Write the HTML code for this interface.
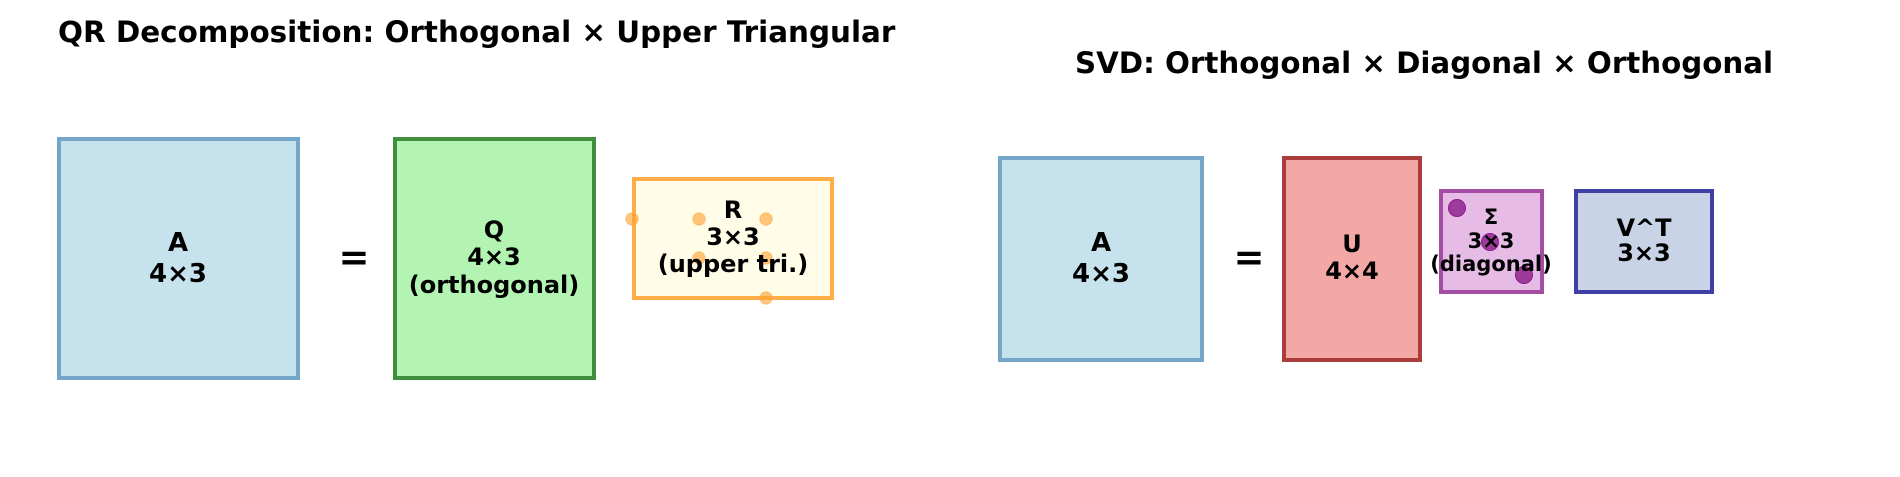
<!DOCTYPE html>
<html><head><meta charset="utf-8"><style>
html,body{margin:0;padding:0;background:#fff;width:1900px;height:477px;overflow:hidden}
text{font-family:"DejaVu Sans","Liberation Sans",sans-serif;font-weight:bold;fill:#000}
</style></head><body>
<svg width="1900" height="477" viewBox="0 0 1900 477" xmlns="http://www.w3.org/2000/svg">
<text x="58" y="42" font-size="29.4">QR Decomposition: Orthogonal × Upper Triangular</text>
<text x="1075" y="73" font-size="29.3">SVD: Orthogonal × Diagonal × Orthogonal</text>

<rect x="59" y="139" width="239" height="239" fill="#c6e2ec" stroke="#74a6c9" stroke-width="4"/>
<text x="178" y="251" font-size="26" text-anchor="middle">A</text>
<text x="178" y="282" font-size="26" text-anchor="middle">4×3</text>
<text x="354" y="270" font-size="37" text-anchor="middle">=</text>

<rect x="395" y="139" width="199" height="239" fill="#b3f4b2" stroke="#3f8f3f" stroke-width="4"/>
<text x="494" y="238" font-size="24" text-anchor="middle">Q</text>
<text x="494" y="265" font-size="24" text-anchor="middle">4×3</text>
<text x="494" y="293" font-size="24" text-anchor="middle">(orthogonal)</text>

<rect x="634" y="179" width="198" height="119" fill="#fffde8" stroke="#ffad48" stroke-width="4"/>
<g fill="#ffa030" fill-opacity="0.6" stroke="#ffad48" stroke-opacity="0.6" stroke-width="1.5">
<circle cx="632" cy="219" r="6"/><circle cx="699" cy="219" r="6"/><circle cx="766" cy="219" r="6"/>
<circle cx="699" cy="258" r="6"/><circle cx="766" cy="258" r="6"/><circle cx="766" cy="298" r="6"/>
</g>
<text x="733" y="218" font-size="24" text-anchor="middle">R</text>
<text x="733" y="245" font-size="24" text-anchor="middle">3×3</text>
<text x="733" y="272" font-size="24" text-anchor="middle">(upper tri.)</text>

<rect x="1000" y="158" width="202" height="202" fill="#c6e2ec" stroke="#74a6c9" stroke-width="4"/>
<text x="1101" y="251" font-size="26" text-anchor="middle">A</text>
<text x="1101" y="282" font-size="26" text-anchor="middle">4×3</text>
<text x="1249" y="270" font-size="37" text-anchor="middle">=</text>

<rect x="1284" y="158" width="136" height="202" fill="#f4a8a6" stroke="#aa3c3c" stroke-width="4"/>
<text x="1352" y="252" font-size="24" text-anchor="middle">U</text>
<text x="1352" y="279" font-size="24" text-anchor="middle">4×4</text>

<rect x="1441" y="191" width="101" height="101" fill="#e6bce6" stroke="#a34ea3" stroke-width="4"/>
<text x="1491" y="224" font-size="21" text-anchor="middle">Σ</text>
<g fill="#8b1a8b" fill-opacity="0.8" stroke="#8b1a8b" stroke-width="1">
<circle cx="1457" cy="208" r="8.5"/><circle cx="1490" cy="242" r="8.5"/><circle cx="1524" cy="275" r="8.5"/>
</g>
<text x="1491" y="248" font-size="21" text-anchor="middle">3×3</text>
<text x="1491" y="271" font-size="21" text-anchor="middle">(diagonal)</text>

<rect x="1576" y="191" width="136" height="101" fill="#c8d4e6" stroke="#3f3fa6" stroke-width="4"/>
<text x="1644" y="236" font-size="24" text-anchor="middle">V^T</text>
<text x="1644" y="261" font-size="24" text-anchor="middle">3×3</text>
</svg>
</body></html>
